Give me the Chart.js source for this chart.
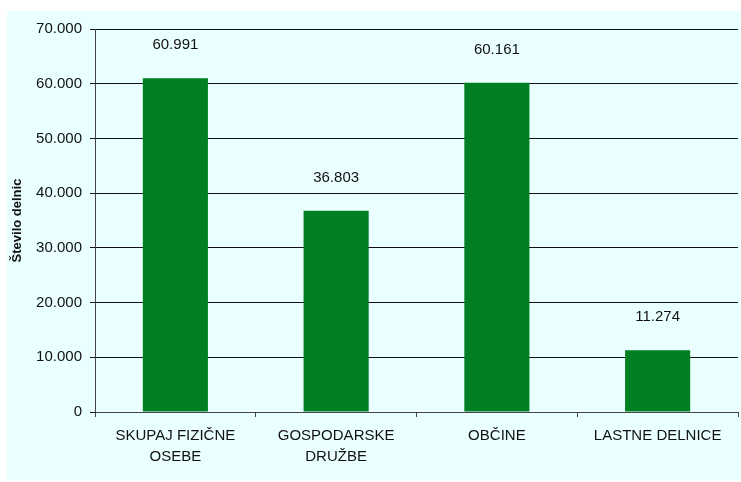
<html lang="sl">
<head>
  <meta charset="UTF-8">
  <title>Število delnic</title>
  <script src="https://cdn.jsdelivr.net/npm/chart.js"></script>
  <style>
    html, body { margin: 0; padding: 0; background: #ffffff; }
    #wrap { width: 741px; height: 482px; }
  </style>
  <script>
    const categories = [['SKUPAJ FIZIČNE', 'OSEBE'], ['GOSPODARSKE', 'DRUŽBE'], 'OBČINE', 'LASTNE DELNICE']
    const shares = [60991, 36803, 60161, 11274]
    const shareLabels = ['60.991', '36.803', '60.161', '11.274']
    const yTickLabels = ['0', '10.000', '20.000', '30.000', '40.000', '50.000', '60.000', '70.000']

    // light cyan panel behind the chart
    const panel = {
      id: 'panel',
      beforeDraw(chart) {
        const ctx = chart.ctx
        ctx.save()
        ctx.fillStyle = '#eaffff'
        ctx.fillRect(7, 11, chart.width - 7, chart.height - 13)
        ctx.restore()
      }
    }

    const valueLabels = {
      id: 'valueLabels',
      afterDatasetsDraw(chart) {
        const ctx = chart.ctx
        const meta = chart.getDatasetMeta(0)
        ctx.save()
        ctx.font = '15px "Liberation Sans", Arial, sans-serif'
        ctx.fillStyle = '#111111'
        ctx.textAlign = 'center'
        ctx.textBaseline = 'middle'
        meta.data.forEach((bar, i) => {
          ctx.fillText(shareLabels[i], bar.x, bar.y - 33)
        })
        ctx.restore()
      }
    }

    window.onload = () => {
      const chart = document.getElementById('chart')
      new Chart(chart, {
        type: 'bar',
        data: {
          labels: categories,
          datasets: [{
            label: 'Število delnic',
            data: shares,
            backgroundColor: '#007f23',
            borderWidth: 0,
            categoryPercentage: 1,
            barPercentage: 0.405
          }]
        },
        options: {
          responsive: false,
          animation: false,
          layout: { padding: { left: 0, top: 29, right: 3, bottom: 0 } },
          plugins: {
            legend: { display: false },
            tooltip: { enabled: false }
          },
          scales: {
            x: {
              afterFit: s => { s.height = 70 },
              border: { color: '#444444', width: 1 },
              grid: { drawOnChartArea: false, color: '#444444', tickLength: 5 },
              ticks: {
                color: '#111111',
                padding: 8,
                maxRotation: 0,
                font: { family: '"Liberation Sans", Arial, sans-serif', size: 15, lineHeight: 1.4 }
              }
            },
            y: {
              min: 0,
              max: 70000,
              afterFit: s => { s.width = 95 },
              border: { color: '#444444', width: 1 },
              grid: { color: '#111111', tickLength: 5 },
              ticks: {
                stepSize: 10000,
                color: '#111111',
                padding: 8,
                font: { family: '"Liberation Sans", Arial, sans-serif', size: 15 },
                callback: v => yTickLabels[v / 10000]
              },
              title: {
                display: true,
                text: 'Število delnic',
                color: '#111111',
                padding: { top: 10, bottom: 0 },
                font: { family: '"Liberation Sans", Arial, sans-serif', size: 13, weight: 'bold', lineHeight: 1.2 }
              }
            }
          }
        },
        plugins: [panel, valueLabels]
      })
    }
  </script>
</head>
<body>
  <div id="wrap">
    <canvas id="chart" width="741" height="482"></canvas>
  </div>
</body>
</html>
